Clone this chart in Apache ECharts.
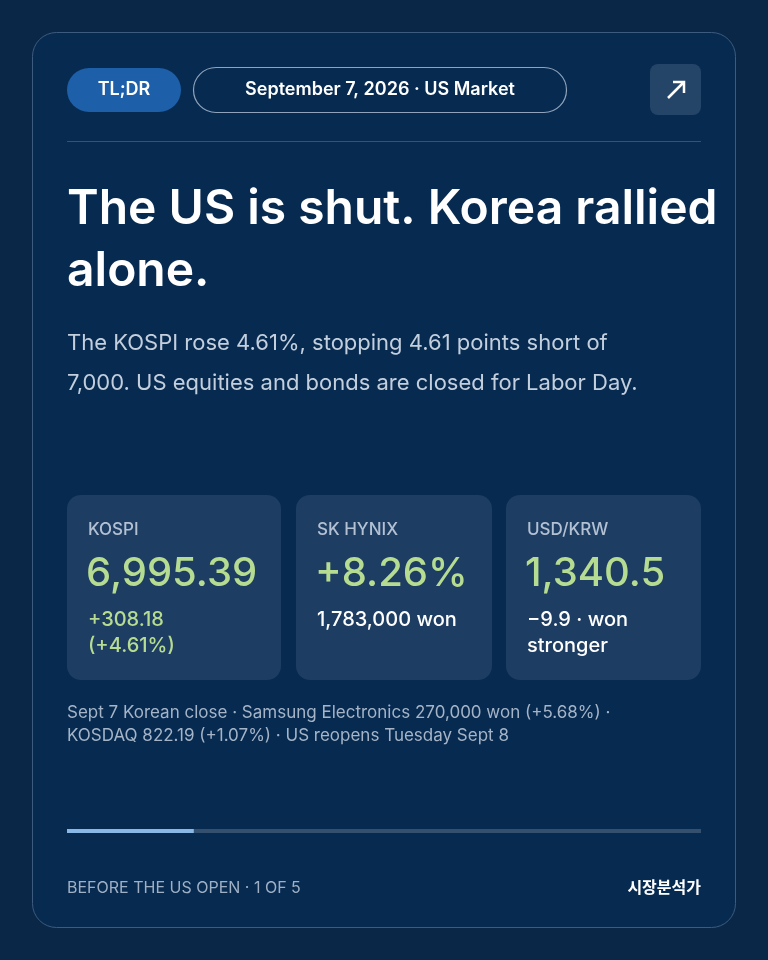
<!DOCTYPE html>
<html><head><meta charset="utf-8">
<script src="https://cdn.jsdelivr.net/npm/echarts@6/dist/echarts.min.js"></script>
<style>html,body{margin:0;padding:0;background:#0a2747;}#c{width:768px;height:960px;}</style>
</head><body><div id="c"></div>
<script>
const badge = "TL;DR";
const dateLabel = "September 7, 2026 · US Market";
const headline = ["The US is shut. Korea rallied", "alone."];
const subtitle = ["The KOSPI rose 4.61%, stopping 4.61 points short of", "7,000. US equities and bonds are closed for Labor Day."];
const statNames = ["KOSPI", "SK HYNIX", "USD/KRW"];
const statValues = ["6,995.39", "+8.26%", "1,340.5"];
const statSubs = [["+308.18", "(+4.61%)"], ["1,783,000 won"], ["−9.9 · won", "stronger"]];
const statSubGreen = [true, false, false];
const footnote = ["Sept 7 Korean close · Samsung Electronics 270,000 won (+5.68%) ·", "KOSDAQ 822.19 (+1.07%) · US reopens Tuesday Sept 8"];
const progressStep = [1];
const progressTotal = 5;
const footerLeft = "BEFORE THE US OPEN · 1 OF 5";
const footerRight = "시장분석가";

const F = "Inter, 'Noto Sans', sans-serif";
const green = "#b6dc92";
const g = [];
g.push({type:'rect', shape:{x:32.5,y:32.5,width:703,height:895,r:24}, style:{fill:'#072a51',stroke:'#3d5b7e',lineWidth:1}});
g.push({type:'rect', shape:{x:67,y:68,width:114,height:44,r:22}, style:{fill:'#1d5fa8'}});
g.push({type:'text', x:124, y:90, style:{text:badge, fill:'#fff', font:'600 18px '+F, align:'center', verticalAlign:'middle'}});
g.push({type:'rect', shape:{x:193.5,y:67.5,width:373,height:45,r:22.5}, style:{fill:'none',stroke:'#8fa3ba',lineWidth:1.2}});
g.push({type:'text', x:380, y:90, style:{text:dateLabel, fill:'#fff', font:'600 18px '+F, align:'center', verticalAlign:'middle'}});
g.push({type:'rect', shape:{x:650,y:64,width:51,height:51,r:8}, style:{fill:'#254568'}});
g.push({type:'polyline', shape:{points:[[668,98],[684,82]]}, style:{stroke:'#fff',lineWidth:2.5}});
g.push({type:'polyline', shape:{points:[[673,82],[684,82],[684,93]]}, style:{stroke:'#fff',lineWidth:2.5,fill:null}});
g.push({type:'line', shape:{x1:67,y1:141.5,x2:701,y2:141.5}, style:{stroke:'#34527a',lineWidth:1}});
headline.forEach((t,i)=>g.push({type:'text', x:67, y:210+i*62, style:{text:t, fill:'#fff', font:'600 48px '+F, verticalAlign:'middle'}}));
subtitle.forEach((t,i)=>g.push({type:'text', x:67, y:343+i*40, style:{text:t, fill:'#c3cfdd', font:'400 22px '+F, verticalAlign:'middle'}}));
const bx=[67,296,506], bw=[214,196,195];
statNames.forEach((n,i)=>{
  g.push({type:'rect', shape:{x:bx[i],y:495,width:bw[i],height:185,r:14}, style:{fill:'#1e3d63'}});
  g.push({type:'text', x:bx[i]+21, y:530, style:{text:n, fill:'#b3c1d3', font:'500 17px '+F, verticalAlign:'middle'}});
  g.push({type:'text', x:bx[i]+19, y:574, style:{text:statValues[i], fill:green, font:'500 40px '+F, verticalAlign:'middle'}});
  statSubs[i].forEach((s,j)=>g.push({type:'text', x:bx[i]+21, y:620+j*26, style:{text:s, fill:statSubGreen[i]?green:'#fff', font:'500 20px '+F, verticalAlign:'middle'}}));
});
footnote.forEach((t,i)=>g.push({type:'text', x:67, y:713+i*23, style:{text:t, fill:'#a5b4c6', font:'400 17px '+F, verticalAlign:'middle'}}));
g.push({type:'text', x:67, y:888, style:{text:footerLeft, fill:'#9fb0c4', font:'400 16px '+F, verticalAlign:'middle'}});
g.push({type:'text', x:701, y:887, style:{text:footerRight, fill:'#fff', font:'600 16px "Noto Sans CJK KR", '+F, align:'right', verticalAlign:'middle'}});

const chart = echarts.init(document.getElementById('c'));
chart.setOption({
  backgroundColor:'#0a2747',
  animation:false,
  grid:{left:67,width:634,top:829,height:4},
  xAxis:{type:'value',min:0,max:progressTotal,show:false},
  yAxis:{type:'category',data:['p'],show:false},
  series:[{type:'bar',data:progressStep,barWidth:4,showBackground:true,backgroundStyle:{color:'#35506f'},itemStyle:{color:'#8ab8e6'}}],
  graphic:g
});
</script></body></html>
